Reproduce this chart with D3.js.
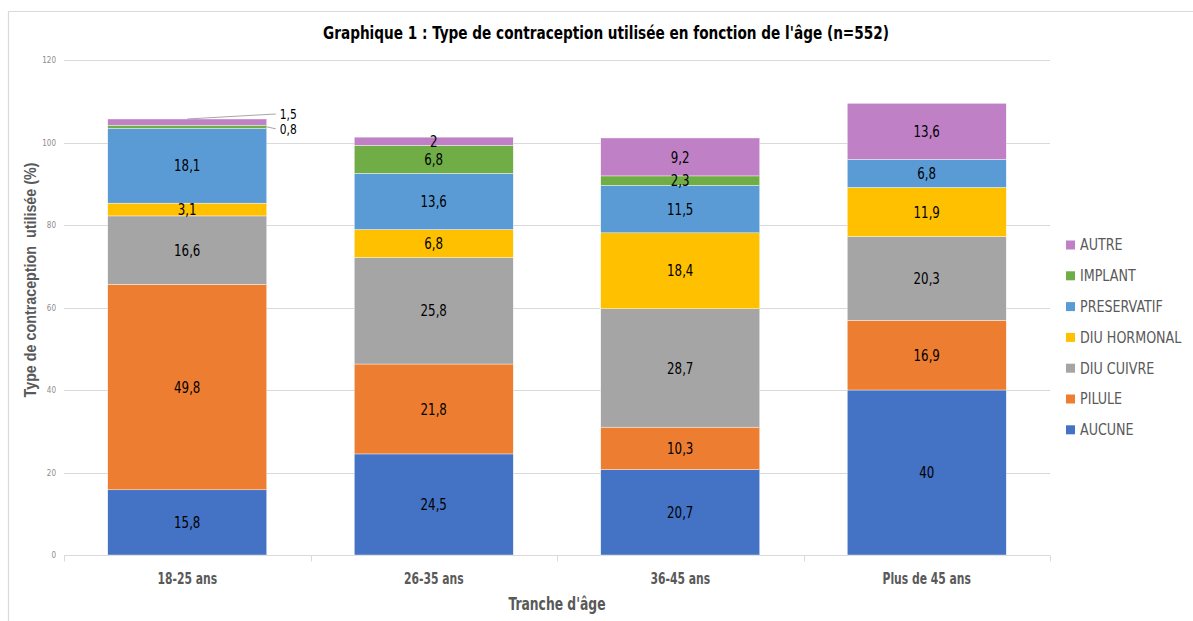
<!DOCTYPE html>
<html>
<head>
<meta charset="utf-8">
<script src="https://cdn.jsdelivr.net/npm/d3@7"></script>
<style>
  body { margin: 0; background: #fff; }
  svg { display: block; }
  text { font-family: "Liberation Sans Narrow", "DejaVu Sans Condensed", sans-serif; }
</style>
</head>
<body>
<svg id="chart"></svg>
<script>
const categories = ['18-25 ans', '26-35 ans', '36-45 ans', 'Plus de 45 ans'];
const seriesNames = ['AUCUNE', 'PILULE', 'DIU CUIVRE', 'DIU HORMONAL', 'PRESERVATIF', 'IMPLANT', 'AUTRE'];
const seriesColors = ['#4472C4', '#ED7D31', '#A5A5A5', '#FFC000', '#5B9BD5', '#70AD47', '#BF80C6'];

const aucune = [15.8, 24.5, 20.7, 40];
const pilule = [49.8, 21.8, 10.3, 16.9];
const diuCuivre = [16.6, 25.8, 28.7, 20.3];
const diuHormonal = [3.1, 6.8, 18.4, 11.9];
const preservatif = [18.1, 13.6, 11.5, 6.8];
const implant = [0.8, 6.8, 2.3, 0];
const autre = [1.5, 2, 9.2, 13.6];

const yTicks = [0, 20, 40, 60, 80, 100, 120];

const W = 1193, H = 621;
const PLOT = { left: 64, right: 1050, top: 60, bottom: 555 };

const svg = d3.select('#chart').attr('width', W).attr('height', H);

// squeeze text horizontally, the reference font is narrower than what we have
const condense = (sel, k) => sel.each(function () {
  const len = this.getComputedTextLength();
  d3.select(this).attr('textLength', len * k).attr('lengthAdjust', 'spacingAndGlyphs');
});

// frame (top and left edges only)
svg.append('path').attr('d', `M8.5,${H} V11.5 H${W}`).attr('fill', 'none').attr('stroke', '#d9d9d9').attr('stroke-width', 1.2);

const values = [aucune, pilule, diuCuivre, diuHormonal, preservatif, implant, autre];
const rows = categories.map((c, i) => {
  const row = { cat: c };
  seriesNames.forEach((s, j) => { row[s] = values[j][i]; });
  return row;
});
const stacked = d3.stack().keys(seriesNames)(rows);

const x = d3.scaleBand().domain(categories).range([PLOT.left, PLOT.right]).paddingInner(0.355).paddingOuter(0.1775);
const y = d3.scaleLinear().domain([0, 120]).range([PLOT.bottom, PLOT.top]);
const color = d3.scaleOrdinal(seriesNames, seriesColors);

// gridlines
svg.append('g').selectAll('line').data(yTicks.filter((t) => t > 0)).join('line')
  .attr('x1', PLOT.left).attr('x2', PLOT.right)
  .attr('y1', (d) => Math.round(y(d)) + 0.5).attr('y2', (d) => Math.round(y(d)) + 0.5)
  .attr('stroke', '#d9d9d9');

// y axis labels
const yAxis = svg.append('g').attr('transform', `translate(${PLOT.left - 8},0)`)
  .call(d3.axisLeft(y).tickValues(yTicks).tickSize(0).tickPadding(0));
yAxis.select('.domain').remove();
yAxis.selectAll('text').attr('fill', '#8c8c8c').style('font-size', '8px');

// x axis
const xAxis = svg.append('g').attr('transform', `translate(0,${PLOT.bottom + 0.5})`);
xAxis.append('line').attr('x1', PLOT.left).attr('x2', PLOT.right).attr('stroke', '#d9d9d9');
const boundaries = categories.map((c) => x(c) - x.step() * x.paddingOuter()).concat([PLOT.right]);
xAxis.selectAll('line.tick').data(boundaries).join('line').attr('class', 'tick')
  .attr('x1', (d) => Math.round(d) + 0.5).attr('x2', (d) => Math.round(d) + 0.5)
  .attr('y1', 0).attr('y2', 6).attr('stroke', '#d9d9d9');
xAxis.selectAll('text').data(categories).join('text')
  .attr('x', (d) => x(d) + x.bandwidth() / 2).attr('y', 28)
  .attr('text-anchor', 'middle').attr('fill', '#595959')
  .style('font-size', '15px').style('font-weight', '600').text((d) => d)
  .call(condense, 0.8);

// bars
const layers = svg.append('g').selectAll('g').data(stacked).join('g').attr('fill', (d) => color(d.key));
layers.selectAll('rect').data((d) => d.filter((p) => p[1] - p[0] > 0)).join('rect')
  .attr('x', (d) => x(d.data.cat)).attr('width', x.bandwidth())
  .attr('y', (d) => y(d[1])).attr('height', (d) => y(d[0]) - y(d[1]))
  .attr('stroke', '#ffffff').attr('stroke-width', 0.4);

// value labels
const fmt = (v) => String(v).replace('.', ',');
const labels = [];
stacked.forEach((layer) => {
  layer.forEach((p) => {
    const v = p[1] - p[0];
    if (v > 0) labels.push({ key: layer.key, cat: p.data.cat, v: +v.toFixed(1), y0: p[0], y1: p[1] });
  });
});
const inside = labels.filter((d) => !(d.cat === categories[0] && d.v < 2));
const outside = labels.filter((d) => d.cat === categories[0] && d.v < 2);

svg.append('g').selectAll('text').data(inside).join('text')
  .attr('x', (d) => x(d.cat) + x.bandwidth() / 2)
  .attr('y', (d) => y((d.y0 + d.y1) / 2))
  .attr('dy', '0.35em').attr('text-anchor', 'middle').attr('fill', '#000')
  .style('font-size', '16px').text((d) => fmt(d.v))
  .call(condense, 0.82);

// small segments: labels outside with leader lines
const outG = svg.append('g');
outside.forEach((d) => {
  const right = x(d.cat) + x.bandwidth();
  const isTop = d.key === 'AUTRE';
  const ly = isTop ? y(d.y1) - 5 : y((d.y0 + d.y1) / 2) + 2;
  const x0 = isTop ? x(d.cat) + x.bandwidth() / 2 : right;
  const y0 = isTop ? y(d.y1) : y((d.y0 + d.y1) / 2);
  outG.append('line').attr('x1', x0).attr('y1', y0).attr('x2', right + 9).attr('y2', ly)
    .attr('stroke', '#a6a6a6').attr('stroke-width', 1);
  outG.append('text').attr('x', right + 13).attr('y', ly).attr('dy', '0.35em')
    .attr('fill', '#000').style('font-size', '14px').text(fmt(d.v))
    .call(condense, 0.85);
});

// legend
const legend = svg.append('g').attr('transform', 'translate(1066,245)');
const legendItems = legend.selectAll('g').data(seriesNames.slice().reverse()).join('g')
  .attr('transform', (d, i) => `translate(0,${i * 30.8})`);
legendItems.append('rect').attr('x', 0).attr('y', -4.5).attr('width', 9).attr('height', 9).attr('fill', (d) => color(d));
legendItems.append('text').attr('x', 14).attr('dy', '0.35em').attr('fill', '#595959')
  .style('font-size', '15.5px').text((d) => d)
  .call(condense, 0.91);

// titles
svg.append('text').attr('x', 606).attr('y', 39).attr('text-anchor', 'middle')
  .attr('fill', '#000').style('font-size', '18px').style('font-weight', 'bold')
  .attr('textLength', 566).attr('lengthAdjust', 'spacingAndGlyphs')
  .text("Graphique 1 : Type de contraception utilisée en fonction de l'âge (n=552)");

svg.append('text').attr('transform', 'translate(36,280) rotate(-90)').attr('text-anchor', 'middle')
  .attr('fill', '#595959').style('font-family', '"Liberation Sans", Arial, sans-serif')
  .style('font-size', '16px').style('font-weight', 'bold').style('white-space', 'pre')
  .attr('textLength', 235).attr('lengthAdjust', 'spacingAndGlyphs')
  .text('Type de contraception  utilisée (%)');

svg.append('text').attr('x', 557).attr('y', 610).attr('text-anchor', 'middle')
  .attr('fill', '#595959').style('font-size', '17px').style('font-weight', '600')
  .attr('textLength', 97).attr('lengthAdjust', 'spacingAndGlyphs')
  .text("Tranche d'âge");
</script>
</body>
</html>
